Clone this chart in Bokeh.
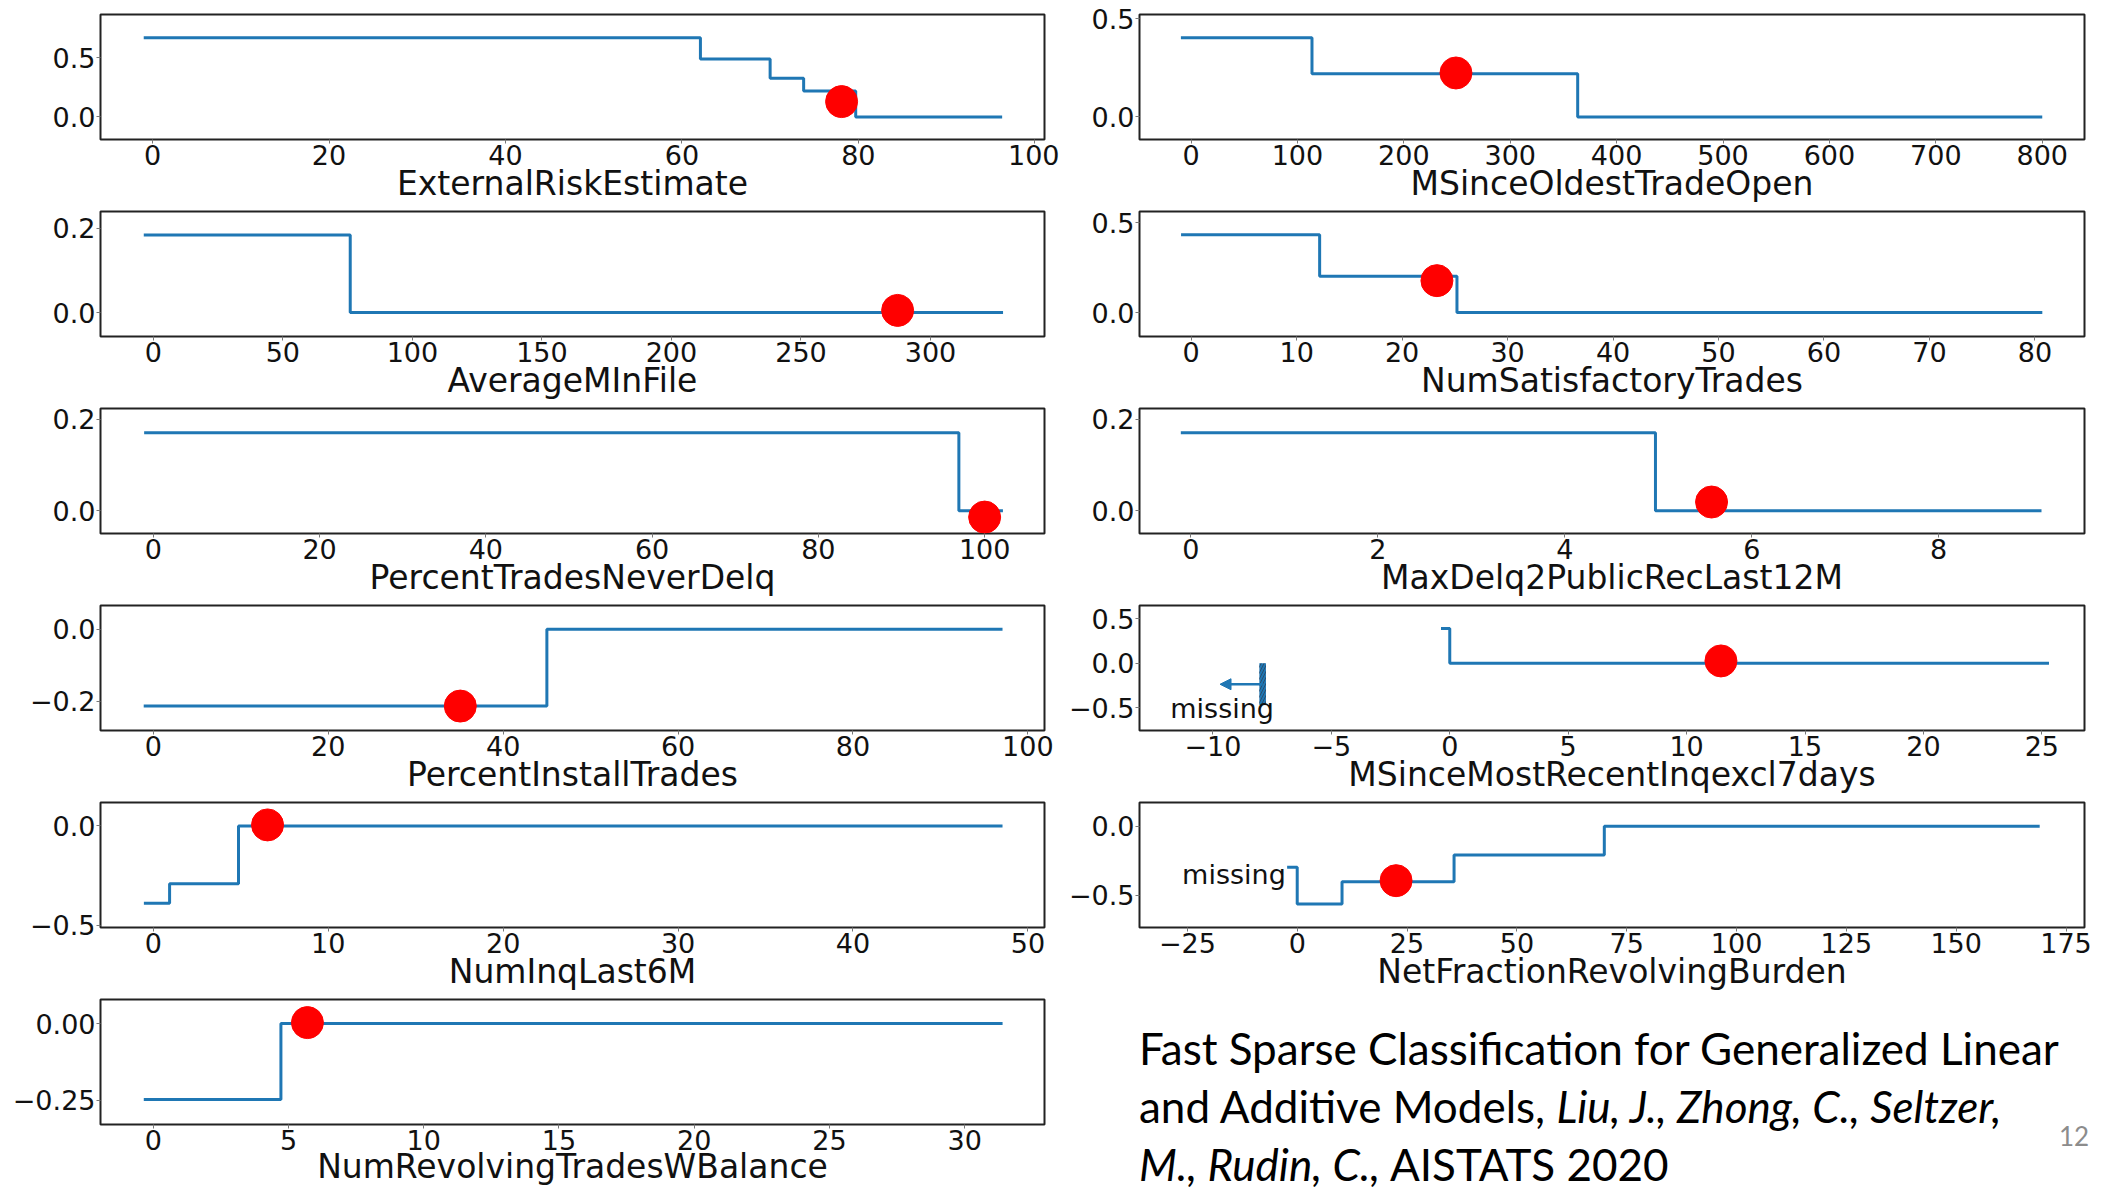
from bokeh.plotting import figure
from bokeh.models import Range1d, FixedTicker, Label, Arrow, NormalHead, Div
from bokeh.layouts import row, column
from bokeh.embed import file_html
from bokeh.resources import INLINE

# ---------------- data ----------------
FEATURES = ["ExternalRiskEstimate", "AverageMInFile", "PercentTradesNeverDelq",
            "PercentInstallTrades", "NumInqLast6M", "NumRevolvingTradesWBalance",
            "MSinceOldestTradeOpen", "NumSatisfactoryTrades", "MaxDelq2PublicRecLast12M",
            "MSinceMostRecentInqexcl7days", "NetFractionRevolvingBurden"]

# step functions: breakpoints (x) and scores (y), last value repeated for the end
ERE_X = [-1.0, 62.1, 70.0, 73.8, 79.7, 96.3]
ERE_Y = [0.669, 0.489, 0.326, 0.219, 0.0, 0.0]
AMF_X = [-3.7, 76.0, 328.0]
AMF_Y = [0.184, 0.0, 0.0]
PTND_X = [-1.1, 96.9, 102.2]
PTND_Y = [0.171, 0.0, 0.0]
PIT_X = [-1.1, 45.0, 97.1]
PIT_Y = [-0.214, 0.0, 0.0]
NIL_X = [-0.54, 0.93, 4.87, 48.55]
NIL_Y = [-0.39, -0.292, 0.0, 0.0]
NRT_X = [-0.35, 4.72, 31.4]
NRT_Y = [-0.247, 0.0, 0.0]
MSOT_X = [-9.5, 113.7, 363.4, 800.0]
MSOT_Y = [0.404, 0.22, 0.0, 0.0]
NST_X = [-0.96, 12.18, 25.2, 80.7]
NST_Y = [0.434, 0.202, 0.0, 0.0]
MDP_X = [-0.108, 4.97, 9.1]
MDP_Y = [0.171, 0.0, 0.0]
MSRI_X = [-0.37, 0.0, 25.3]
MSRI_Y = [0.39, 0.0, 0.0]
MSRI_MISSING_X = [-7.9]
MSRI_MISSING_Y = [-0.467]
NFRB_X = [-2.3, 0.0, 10.2, 35.7, 69.9, 169.0]
NFRB_Y = [-0.297, -0.562, -0.4, -0.207, 0.0, 0.0]

# highlighted sample (red dot) per feature
DOT_X = [78.1, 287.3, 100.0, 35.1, 6.53, 5.7, 249.0, 23.3, 5.57, 11.45, 22.5]
DOT_Y = [0.13, 0.005, -0.014, -0.214, 0.005, 0.003, 0.224, 0.178, 0.019, 0.026, -0.393]

# axis limits
X_LIM = [(-5.9, 101.1), (-20.4, 344.0), (-6.35, 107.2), (-6.04, 101.9), (-3.02, 50.95),
         (-1.95, 32.95), (-48.4, 839.7), (-4.9, 84.7), (-0.55, 9.56), (-13.1, 26.8),
         (-35.9, 179.2)]
Y_LIM = [(-0.19, 0.865), (-0.057, 0.24), (-0.05, 0.224), (-0.282, 0.066), (-0.512, 0.118),
         (-0.328, 0.078), (-0.115, 0.522), (-0.134, 0.564), (-0.05, 0.224), (-0.753, 0.647),
         (-0.731, 0.171)]

# ticks
X_TICKS = [[0, 20, 40, 60, 80, 100], [0, 50, 100, 150, 200, 250, 300], [0, 20, 40, 60, 80, 100],
           [0, 20, 40, 60, 80, 100], [0, 10, 20, 30, 40, 50], [0, 5, 10, 15, 20, 25, 30],
           [0, 100, 200, 300, 400, 500, 600, 700, 800], [0, 10, 20, 30, 40, 50, 60, 70, 80],
           [0, 2, 4, 6, 8], [-10, -5, 0, 5, 10, 15, 20, 25],
           [-25, 0, 25, 50, 75, 100, 125, 150, 175]]
Y_TICKS = [[0.0, 0.5], [0.0, 0.2], [0.0, 0.2], [-0.2, 0.0], [-0.5, 0.0], [-0.25, 0.0],
           [0.0, 0.5], [0.0, 0.5], [0.0, 0.2], [-0.5, 0.0, 0.5], [-0.5, 0.0]]
Y_TICK_LABELS = [["0.0", "0.5"], ["0.0", "0.2"], ["0.0", "0.2"], ["\u22120.2", "0.0"],
                 ["\u22120.5", "0.0"], ["\u22120.25", "0.00"], ["0.0", "0.5"], ["0.0", "0.5"],
                 ["0.0", "0.2"], ["\u22120.5", "0.0", "0.5"], ["\u22120.5", "0.0"]]

STEP_X = [ERE_X, AMF_X, PTND_X, PIT_X, NIL_X, NRT_X, MSOT_X, NST_X, MDP_X, MSRI_X, NFRB_X]
STEP_Y = [ERE_Y, AMF_Y, PTND_Y, PIT_Y, NIL_Y, NRT_Y, MSOT_Y, NST_Y, MDP_Y, MSRI_Y, NFRB_Y]

BLUE = "#1f77b4"
FONT = "DejaVu Sans"


def fmt_tick(t):
    return str(t).replace("-", "\u2212")


def make_panel(i, col, first_row, last_row=False):
    left = 100 if col == 0 else 80
    right = 15 if col == 0 else 34
    top = 14 if first_row else 5
    bottom = 65 if last_row else 67
    h = top + 125 + bottom
    p = figure(width=1059, height=h, x_range=Range1d(*X_LIM[i]), y_range=Range1d(*Y_LIM[i]),
               output_backend="svg", toolbar_location=None, title=None,
               min_border_left=left, min_border_right=right,
               min_border_top=top, min_border_bottom=bottom)
    p.xgrid.visible = False
    p.ygrid.visible = False
    p.outline_line_color = "#222222"
    p.outline_line_width = 2
    p.background_fill_color = "white"
    p.border_fill_color = "white"

    p.xaxis.ticker = FixedTicker(ticks=X_TICKS[i])
    p.xaxis.major_label_overrides = {t: fmt_tick(t) for t in X_TICKS[i]}
    p.yaxis.ticker = FixedTicker(ticks=Y_TICKS[i])
    p.yaxis.major_label_overrides = dict(zip(Y_TICKS[i], Y_TICK_LABELS[i]))

    p.axis.axis_line_color = None
    p.axis.major_tick_line_color = "#777777"
    p.axis.major_tick_line_width = 1
    p.axis.major_tick_in = 0
    p.axis.major_tick_out = 4
    p.axis.minor_tick_line_color = None
    p.axis.major_label_text_font = FONT
    p.axis.major_label_text_font_size = "27px"
    p.axis.major_label_text_color = "#111111"
    p.xaxis.major_label_standoff = 1
    p.yaxis.major_label_standoff = 1

    p.xaxis.axis_label = FEATURES[i]
    p.xaxis.axis_label_text_font = FONT
    p.xaxis.axis_label_text_font_size = "33px"
    p.xaxis.axis_label_text_font_style = "normal"
    p.xaxis.axis_label_text_color = "#111111"
    p.xaxis.axis_label_standoff = -6 if last_row else -4

    p.step(STEP_X[i], STEP_Y[i], mode="after", line_color=BLUE, line_width=3)
    p.scatter([DOT_X[i]], [DOT_Y[i]], size=32, color="#ff0000")
    return p


left_idx = [0, 1, 2, 3, 4, 5]
right_idx = [6, 7, 8, 9, 10]

left_figs = [make_panel(i, 0, k == 0, k == len(left_idx) - 1) for k, i in enumerate(left_idx)]
right_figs = [make_panel(i, 1, k == 0) for k, i in enumerate(right_idx)]

# missing-value markers
p10 = right_figs[3]
p10.vbar(x=MSRI_MISSING_X, width=0.28, top=[0.0], bottom=MSRI_MISSING_Y,
         fill_color=BLUE, line_color=None, hatch_pattern="/", hatch_color="#2a4d6e",
         hatch_scale=6, hatch_weight=1)
p10.add_layout(Arrow(end=NormalHead(size=11, fill_color=BLUE, line_color=BLUE),
                     x_start=-7.9, y_start=-0.235, x_end=-9.7, y_end=-0.235,
                     line_color=BLUE, line_width=2.5))
p10.add_layout(Label(x=-11.8, y=-0.505, text="missing", text_font=FONT,
                     text_font_size="27px", text_baseline="alphabetic", text_color="#111111"))

p11 = right_figs[4]
p11.add_layout(Label(x=-2.6, y=-0.351, text="missing", text_font=FONT, text_align="right",
                     text_font_size="27px", text_baseline="alphabetic", text_color="#111111"))

# right column heights: 206 + 4*197 = 994 -> citation block gets 195
citation = (
    '<div style="position:relative;width:1059px;height:195px;">'
    '<div style="position:absolute;left:80px;top:25px;font-family:Lato;font-size:44px;'
    'line-height:58px;color:#000;white-space:nowrap;">'
    'Fast Sparse Classification for Generalized Linear<br>'
    'and Additive Models, <i>Liu, J., Zhong, C., Seltzer,</i><br>'
    '<i>M., Rudin, C.,</i> AISTATS 2020</div>'
    '<div style="position:absolute;left:1000px;top:127px;font-family:Lato;font-size:26px;'
    'line-height:1.2;color:#8c8c8c;">12</div>'
    '</div>'
)
div = Div(text=citation, width=1059, height=195, margin=0)

layout = row(column(*left_figs, spacing=0), column(*right_figs, div, spacing=0), spacing=0)

open("out.html", "w").write(file_html(layout, INLINE))
